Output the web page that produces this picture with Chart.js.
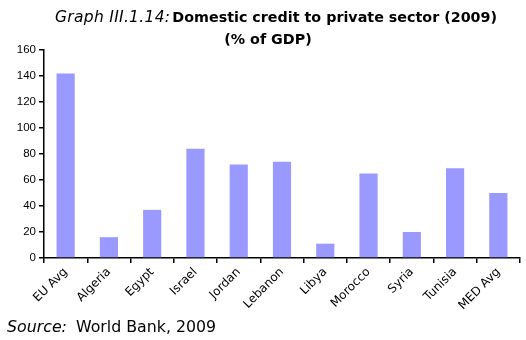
<!DOCTYPE html>
<html>
<head>
<meta charset="utf-8">
<script src="https://cdn.jsdelivr.net/npm/chart.js@4/dist/chart.umd.min.js"></script>
<style>
  html, body { margin: 0; padding: 0; background: #fff; }
  #wrap { position: relative; width: 526px; height: 340px; overflow: hidden; }
  #c { position: absolute; left: 0; top: 0; }
  .t { position: absolute; white-space: nowrap; color: #000; }
  #ttl1 { left: 55px; top: 8px; font: italic 15.5px "DejaVu Sans", sans-serif; letter-spacing: 0.3px; }
  #ttl1 b { font-style: normal; font-weight: bold; font-size: 14.3px; letter-spacing: 0; margin-left: 2px; }
  #ttl2 { left: 0; width: 536px; text-align: center; top: 31px; font: bold 14.3px "DejaVu Sans", sans-serif; }
  #src { left: 7px; top: 317px; font: 15.8px "DejaVu Sans", sans-serif; }
  #src i { font-style: italic; margin-right: 4px; }
</style>
</head>
<body>
<div id="wrap">
  <canvas id="c" width="526" height="340"></canvas>
  <div class="t" id="ttl1">Graph III.1.14:<b>Domestic credit to private sector (2009)</b></div>
  <div class="t" id="ttl2">(% of GDP)</div>
  <div class="t" id="src"><i>Source:</i> World Bank, 2009</div>
</div>
<script>
// Domestic credit to private sector, % of GDP, 2009
const categories = ["EU Avg", "Algeria", "Egypt", "Israel", "Jordan", "Lebanon", "Libya", "Morocco", "Syria", "Tunisia", "MED Avg"];
const creditShare = [142, 16, 37, 84, 72, 74, 11, 65, 20, 69, 50];
const yTicks = [0, 20, 40, 60, 80, 100, 120, 140, 160];

new Chart(document.getElementById("c"), {
  type: "bar",
  data: {
    labels: categories,
    datasets: [{
      data: creditShare,
      backgroundColor: "#9999ff",
      borderWidth: 0,
      barPercentage: 0.42,
      categoryPercentage: 1.0
    }]
  },
  options: {
    responsive: false,
    animation: false,
    devicePixelRatio: 1,
    layout: { padding: { left: 0, top: 50, right: 6, bottom: 0 } },
    plugins: { legend: { display: false }, tooltip: { enabled: false }, title: { display: false } },
    scales: {
      x: {
        offset: true,
        border: { display: true, color: "#000", width: 1.5 },
        grid: { display: true, offset: true, drawOnChartArea: false, drawTicks: true, tickLength: 5, color: "#000", lineWidth: 1.5 },
        ticks: {
          autoSkip: false, maxRotation: 45, minRotation: 45, padding: 2,
          color: "#000", font: { family: "DejaVu Sans", size: 12 }
        },
        afterFit: s => { s.height = 82; }
      },
      y: {
        min: 0, max: 160,
        afterBuildTicks: s => { s.ticks = yTicks.map(v => ({ value: v })); },
        border: { display: true, color: "#000", width: 1.5 },
        grid: { display: true, drawOnChartArea: false, drawTicks: true, tickLength: 5, color: "#000", lineWidth: 1.5 },
        ticks: { padding: 3, color: "#000", font: { family: "Liberation Sans", size: 11.5 } },
        afterFit: s => { s.width = 44; }
      }
    }
  }
});
</script>
</body>
</html>
